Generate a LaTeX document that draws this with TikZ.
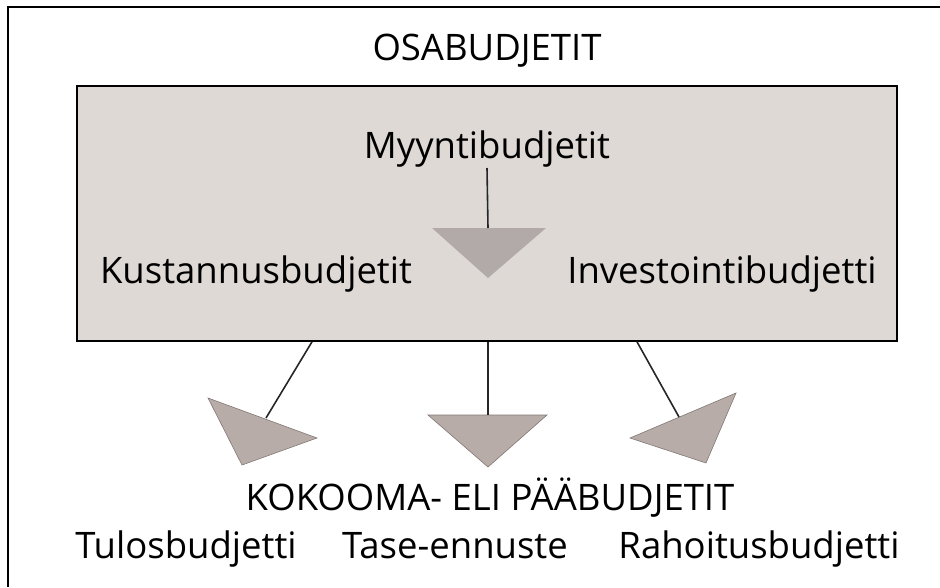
\documentclass[tikz,border=0pt]{standalone}
\usepackage{fontspec}
\setmainfont{Open Sans}
\usetikzlibrary{positioning,calc}
\definecolor{osaBoxGray}{RGB}{222, 217, 213}
\definecolor{osaTriGray}{RGB}{184, 172, 169}
\definecolor{osaInnerGray}{RGB}{178, 170, 168}

\begin{document}
\begin{tikzpicture}[
  x=1pt, y=-1pt,
  label/.style={inner sep=0pt, anchor=base, font=\fontsize{36.5}{44}\selectfont},
  frame/.style={line width=1.8pt, black},
  link/.style={line width=1.6pt, black!85},
  tri/.style={fill=osaTriGray, draw=osaTriGray!70!black, line width=0.6pt}
]
\useasboundingbox (0,0) rectangle (940,587);
\draw[frame] (8,587) -- (8,7) -- (940,7);

\node[label] (osa) at (487,60) {OSABUDJETIT};
\node[draw, line width=1.6pt, fill=osaBoxGray, minimum width=820pt,
      minimum height=255pt, inner sep=0pt] (box) at (487,213.5) {};
\node[label] (myynti) at (487,158) {Myyntibudjetit};
\node[label] (kust) at (256,283) {Kustannusbudjetit};
\node[label] (inv) at (722,283) {Investointibudjetti};

% inner triangle
\coordinate (m) at (488,228);
\fill[osaInnerGray] (432,228) -- (546,228) -- (488,278) -- cycle;
\draw[link] (myynti.south |- 0,168) -- (m);

% lower triangles
\coordinate (lt) at (266,418);
\coordinate (ct) at (488,415);
\coordinate (rt) at (679,417);
\draw[tri] (208,398) -- (317,438) -- (242,465) -- cycle;
\draw[tri] (428,415) -- (547,415) -- (488,467) -- cycle;
\draw[tri] (736,393) -- (630,438) -- (706,463) -- cycle;
\draw[link] (box.south -| 312,0) -- (lt);
\draw[link] (box.south -| ct) -- (ct);
\draw[link] (box.south -| 637,0) -- (rt);

\node[label] (kokooma) at (490,510) {KOKOOMA- ELI PÄÄBUDJETIT};
\node[label] (tulos) at (186,558) {Tulosbudjetti};
\node[label] (tase) at (455,558) {Tase-ennuste};
\node[label] (rahoitus) at (759,558) {Rahoitusbudjetti};
\end{tikzpicture}
\end{document}
